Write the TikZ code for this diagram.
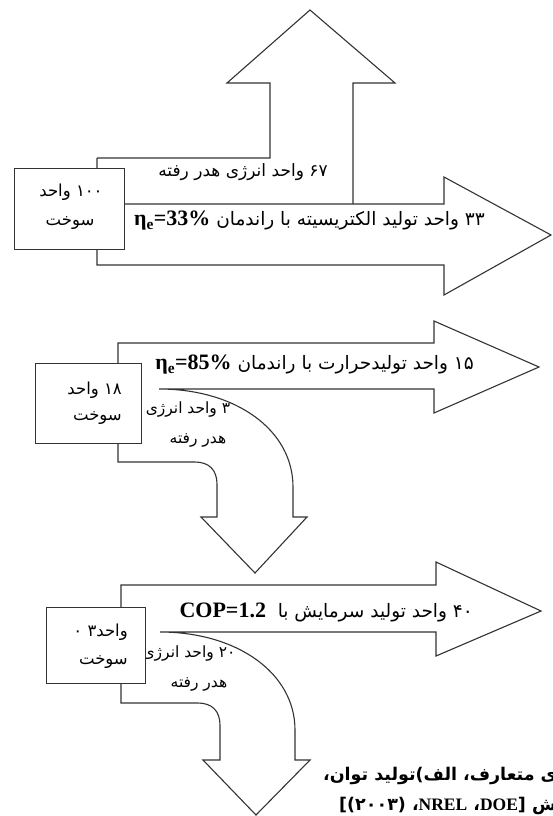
\documentclass[tikz,border=0pt]{standalone}
\usepackage{fontspec}
\newfontfamily\fa[Script=Arabic]{DejaVu Sans}
\newfontfamily\lat{Liberation Serif}
\TeXXeTstate=1
\tikzset{
  ln/.style={draw=black!80, line width=1.1pt, line join=miter},
  fuelbox/.style={draw=black!80, line width=1.1pt, fill=white, inner sep=0pt},
  lbl/.style={inner sep=0pt, font=\fa\fontsize{18.5}{20}\selectfont},
  boxlbl/.style={inner sep=0pt, font=\fa\fontsize{16.5}{18}\selectfont},
  curvelbl/.style={inner sep=0pt, font=\fa\fontsize{15.5}{17}\selectfont},
  caplbl/.style={inner sep=0pt, font=\fa\bfseries\fontsize{17.5}{19}\selectfont},
}
\newcommand\latb[1]{{\lat\bfseries\fontsize{22}{24}\selectfont #1}}
\begin{document}
\begin{tikzpicture}[x=1pt,y=-1pt]
\useasboundingbox (0,0) rectangle (553,816);

% ---------- top: electricity ----------
\draw[ln] (97,158) -- (270,158) -- (270,83) -- (227,83) -- (310,10) -- (395,83) -- (353,83) -- (353,204);
\draw[ln] (123,204) -- (444,204) -- (444,177) -- (551,235) -- (444,295) -- (444,265) -- (97,265) -- (97,158);
\node[fuelbox, minimum width=110pt, minimum height=81pt, anchor=north west] (b1) at (13.5,168) {};
\node[boxlbl] (b1a) at (71,192) {\beginR ۱۰۰ واحد\endR};
\node[boxlbl] (b1b) at (70,223) {سوخت};
\node[lbl, font=\fa\fontsize{17}{19}\selectfont] (t67) at (243,172) {\beginR ۶۷ واحد انرژی هدر رفته\endR};
\node[lbl, anchor=east] (t33) at (485,221) {\beginR ۳۳ واحد تولید الکتریسیته با راندمان \beginL\latb{η\textsubscript{e}=33\%}\endL\endR};

% ---------- middle: heat ----------
\draw[ln] (159,389) -- (434,389) -- (434,413) -- (539,367) -- (434,321) -- (434,343) -- (118,343) -- (118,462) -- (195,462) .. controls (209,462) and (217,470) .. (217,484) -- (217,517) -- (201,517) -- (255,573) -- (307,517) -- (293,517) -- (293,487) .. controls (293,430) and (236,389) .. (159,389);
\node[curvelbl] (t3a) at (188,409) {\beginR ۳ واحد انرژی\endR};
\node[curvelbl] (t3b) at (198,440) {\beginR هدر رفته\endR};
\node[fuelbox, minimum width=106pt, minimum height=80pt, anchor=north west] (b2) at (35,363) {};
\node[boxlbl, anchor=east] (b2a) at (122,390) {\beginR ۱۸ واحد\endR};
\node[boxlbl, anchor=east] (b2b) at (122,418) {سوخت};
\node[lbl, anchor=east] (t15) at (474,365) {\beginR ۱۵ واحد تولیدحرارت با راندمان \beginL\latb{η\textsubscript{e}=85\%}\endL\endR};

% ---------- bottom: cooling ----------
\draw[ln] (160,632) -- (436,632) -- (436,656) -- (541,611) -- (436,562) -- (436,585) -- (121,585) -- (121,703) -- (198,703) .. controls (212,703) and (220,711) .. (220,725) -- (220,760) -- (203,760) -- (256,815) -- (310,760) -- (295,760) -- (295,730) .. controls (295,673) and (237,632) .. (160,632);
\node[curvelbl] (t20a) at (189,653) {\beginR ۲۰ واحد انرژی\endR};
\node[curvelbl] (t20b) at (199,684) {\beginR هدر رفته\endR};
\node[fuelbox, minimum width=99pt, minimum height=76pt, anchor=north west] (b3) at (46,607) {};
\node[boxlbl, anchor=east] (b3a) at (128,632) {\beginR واحد۳ ۰\endR};
\node[boxlbl, anchor=east] (b3b) at (128,662) {سوخت};
\node[lbl, anchor=east] (t40) at (473,612) {\beginR ۴۰ واحد تولید سرمایش با \ \beginL\latb{COP=1.2}\endL\endR};

% ---------- caption (cut by the right edge) ----------
\node[caplbl, anchor=east] (c1) at (557,776) {\beginR ی متعارف، الف)تولید توان،\endR};
\node[caplbl, anchor=east] (c2) at (557,806) {\beginR ‍ش [\beginL{\lat\bfseries DOE}\endL، \beginL{\lat\bfseries NREL}\endL، (۲۰۰۳)]\endR};
\end{tikzpicture}
\end{document}
